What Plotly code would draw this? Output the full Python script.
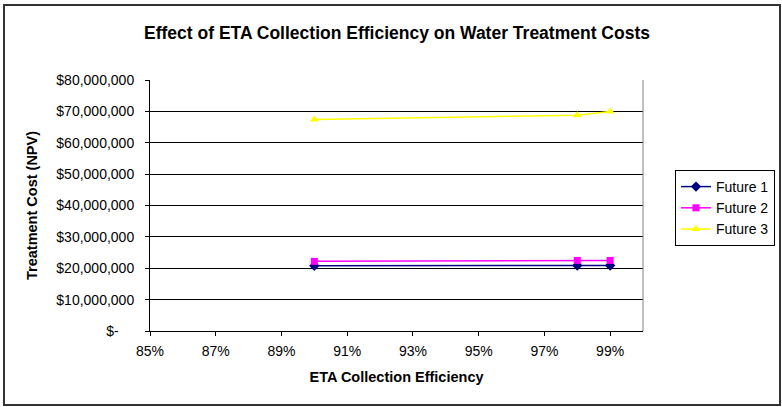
import plotly.graph_objects as go

# Collection efficiency (%) and treatment cost NPV ($) per future scenario
efficiency = [90, 98, 99]
future_1 = [20_800_000, 20_900_000, 20_900_000]
future_2 = [22_200_000, 22_500_000, 22_500_000]
future_3 = [67_400_000, 68_800_000, 70_000_000]

series = [
    ("Future 1", future_1, "#000080", "diamond", 8),
    ("Future 2", future_2, "#FF00FF", "square", 7),
    ("Future 3", future_3, "#FFFF00", "triangle-up", 8),
]

y_ticks = list(range(0, 80_000_001, 10_000_000))
# accounting-style labels: zero shown as a dash with trailing padding
y_tick_text = ["$-" + "\u00a0" * 4] + [f"${v:,}" for v in y_ticks[1:]]
x_ticks = list(range(85, 100, 2))
x_tick_text = [f"{v}%" for v in x_ticks]

fig = go.Figure()
for name, vals, color, symbol, size in series:
    fig.add_trace(go.Scatter(
        x=efficiency, y=vals, name=name, mode="lines+markers",
        line=dict(color=color, width=1.5),
        marker=dict(symbol=symbol, size=size, color=color),
    ))

W, H = 782, 407
L, R, T, B = 150, 139, 80, 76
pw, ph = W - L - R, H - T - B


def px(x):
    return (x - L) / pw


def py(y):
    return (H - B - y) / ph


font = "Liberation Sans, Arial, sans-serif"

fig.update_layout(
    width=W, height=H,
    margin=dict(l=L, r=R, t=T, b=B, autoexpand=False),
    paper_bgcolor="white", plot_bgcolor="white",
    font=dict(family=font, size=14, color="black"),
    title=dict(
        text="<b>Effect of ETA Collection Efficiency on Water Treatment Costs</b>",
        x=397 / W, xanchor="center", y=1 - 33 / H, yanchor="middle",
        font=dict(size=17.5, family=font),
    ),
    xaxis=dict(
        range=[85, 100], tickvals=x_ticks, ticktext=x_tick_text,
        showgrid=False, zeroline=False,
        showline=True, linecolor="black", linewidth=1,
        ticks="outside", ticklen=4, tickcolor="black",
        tickfont=dict(size=14), ticklabelstandoff=3,
        title=dict(text="<b>ETA Collection Efficiency</b>", font=dict(size=14.5), standoff=14),
    ),
    yaxis=dict(
        range=[0, 80_000_000], tickvals=y_ticks, ticktext=y_tick_text,
        showgrid=True, gridcolor="black", gridwidth=1, zeroline=False,
        showline=True, linecolor="black", linewidth=1,
        ticks="outside", ticklen=4, tickcolor="black",
        tickfont=dict(size=14), ticklabelstandoff=8,
        title=dict(text="<b>Treatment Cost (NPV)</b>", font=dict(size=14.5), standoff=15),
    ),
    legend=dict(
        x=px(675), y=py(170), xanchor="left", yanchor="top",
        bordercolor="black", borderwidth=1, bgcolor="white",
        font=dict(size=14), tracegroupgap=0, itemwidth=30,
    ),
    shapes=[
        # plot area right edge
        dict(type="line", xref="paper", yref="paper", x0=1, x1=1, y0=0, y1=1,
             line=dict(color="#808080", width=1)),
        # chart frame
        dict(type="rect", xref="paper", yref="paper",
             x0=px(4), x1=px(780), y0=py(405), y1=py(5),
             line=dict(color="#333333", width=2), layer="below"),
    ],
    showlegend=True,
)

fig.write_html("out.html")
